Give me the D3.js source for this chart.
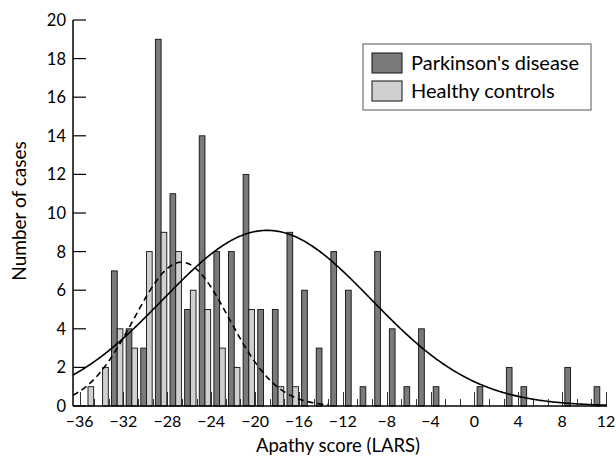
<!DOCTYPE html>
<html lang="en">
<head>
<meta charset="UTF-8">
<title>Apathy score histogram</title>
<script src="https://cdn.jsdelivr.net/npm/d3@7"></script>
<style>
  body { margin: 0; background: white; }
  svg { font-family: Lato, "Noto Sans", sans-serif; }
</style>
</head>
<body>
<div id="chart"></div>
<script>

// bins are 4/3 of a LARS point wide, starting at -36
var binWidth = 4 / 3;
var binStarts = d3.range(36).map(function(i) { return -36 + i * binWidth; });

// counts per bin
var pdCounts = [0, 0, 7, 4, 3, 19, 11, 5, 14, 8, 8, 12, 5, 5, 9, 6, 3, 8, 6, 1,
                8, 4, 1, 4, 1, 0, 0, 1, 0, 2, 1, 0, 0, 2, 0, 1];
var hcCounts = [1, 2, 4, 3, 8, 9, 8, 6, 5, 3, 2, 5, 0, 1, 1, 0, 0, 0, 0, 0,
                0, 0, 0, 0, 0, 0, 0, 0, 0, 0, 0, 0, 0, 0, 0, 0];

// fitted normal curves: [mean, sd, peak height]
var pdFit = [-18.9, 9.5, 9.1];
var hcFit = [-26.7, 4.35, 7.45];

var xTicks = [-36, -32, -28, -24, -20, -16, -12, -8, -4, 0, 4, 8, 12];
var yTicks = [0, 2, 4, 6, 8, 10, 12, 14, 16, 18, 20];
var seriesNames = ["Parkinson's disease", "Healthy controls"];

var w = 616, h = 459;
var pdFill = "#7a7a7a", hcFill = "#d0d0d0";

var svg = d3.select("#chart").append("svg")
  .attr("width", w)
  .attr("height", h);

var x = d3.scaleLinear().domain([-36.6, 12]).range([73, 606]);
var y = d3.scaleLinear().domain([0, 20]).range([406, 20]);

// position of the two bars inside one bin
var inner = d3.scaleBand().domain(["pd", "hc"]).range([2.7, 14.1]);

var bars = [];
binStarts.forEach(function(s, i) {
  bars.push({ s: s, key: "pd", v: pdCounts[i] });
  bars.push({ s: s, key: "hc", v: hcCounts[i] });
});

// x axis ticks at every bin edge, taller ones at the labels
var edges = d3.range(37).map(function(i) { return -36 + i * binWidth; });
svg.selectAll("line.minor")
  .data(edges)
  .enter()
  .append("line")
  .attr("class", "minor")
  .attr("x1", function(d) { return Math.round(x(d)) + 0.5; })
  .attr("x2", function(d) { return Math.round(x(d)) + 0.5; })
  .attr("y1", y(0))
  .attr("y2", function(d, i) { return i % 3 == 0 ? y(0) - 14 : y(0) - 7; })
  .attr("stroke", "#333")
  .attr("stroke-width", 1);

// the bars
svg.selectAll("rect.bar")
  .data(bars.filter(function(d) { return d.v > 0; }))
  .enter()
  .append("rect")
  .attr("class", "bar")
  .attr("x", function(d) { return x(d.s) + inner(d.key); })
  .attr("y", function(d) { return y(d.v); })
  .attr("width", inner.bandwidth())
  .attr("height", function(d) { return y(0) - y(d.v); })
  .attr("fill", function(d) { return d.key == "pd" ? pdFill : hcFill; })
  .attr("stroke", "#111")
  .attr("stroke-width", 0.9);

// normal curves
function normal(fit) {
  return function(v) {
    return fit[2] * Math.exp(-Math.pow(v - fit[0], 2) / (2 * fit[1] * fit[1]));
  };
}
var line = d3.line()
  .x(function(d) { return x(d[0]); })
  .y(function(d) { return y(d[1]); });

var pdCurve = d3.range(-36.6, 12.01, 0.1).map(function(v) { return [v, normal(pdFit)(v)]; });
var hcCurve = d3.range(-36.6, -13.2, 0.1).map(function(v) { return [v, normal(hcFit)(v)]; });

svg.append("path")
  .attr("d", line(pdCurve))
  .attr("fill", "none")
  .attr("stroke", "black")
  .attr("stroke-width", 1.6);

svg.append("path")
  .attr("d", line(hcCurve))
  .attr("fill", "none")
  .attr("stroke", "black")
  .attr("stroke-width", 1.6)
  .attr("stroke-dasharray", "6,4");

// axis lines
svg.append("line")
  .attr("x1", 73).attr("x2", 607)
  .attr("y1", y(0)).attr("y2", y(0))
  .attr("stroke", "black").attr("stroke-width", 1.5);
svg.append("line")
  .attr("x1", 73).attr("x2", 73)
  .attr("y1", y(20)).attr("y2", y(0))
  .attr("stroke", "black").attr("stroke-width", 1.5);

// y ticks point inwards
svg.selectAll("line.ytick")
  .data(yTicks)
  .enter()
  .append("line")
  .attr("class", "ytick")
  .attr("x1", 73).attr("x2", 86)
  .attr("y1", function(d) { return y(d); })
  .attr("y2", function(d) { return y(d); })
  .attr("stroke", "black")
  .attr("stroke-width", 1.2);

svg.selectAll("text.ylab")
  .data(yTicks)
  .enter()
  .append("text")
  .attr("class", "ylab")
  .attr("x", 66)
  .attr("y", function(d) { return y(d) + 6; })
  .attr("text-anchor", "end")
  .attr("font-size", 16.5)
  .text(function(d) { return d; });

var fmt = d3.format("d");
svg.selectAll("text.xlab")
  .data(xTicks)
  .enter()
  .append("text")
  .attr("class", "xlab")
  .attr("x", function(d) { return x(d); })
  .attr("y", 427)
  .attr("text-anchor", "middle")
  .attr("font-size", 16)
  .text(function(d) { return fmt(d); });

// axis titles
svg.append("text")
  .attr("x", 338)
  .attr("y", 452)
  .attr("text-anchor", "middle")
  .attr("font-size", 18.5)
  .text("Apathy score (LARS)");

svg.append("text")
  .attr("transform", "translate(26,211) rotate(-90)")
  .attr("text-anchor", "middle")
  .attr("font-size", 19)
  .text("Number of cases");

// legend
var legend = svg.append("g").attr("transform", "translate(363,44)");
legend.append("rect")
  .attr("width", 228).attr("height", 66)
  .attr("fill", "white")
  .attr("stroke", "#555")
  .attr("stroke-width", 1);

var items = legend.selectAll("g.item")
  .data(seriesNames)
  .enter()
  .append("g")
  .attr("class", "item")
  .attr("transform", function(d, i) { return "translate(9," + (9 + i * 28) + ")"; });

items.append("rect")
  .attr("width", 30).attr("height", 20)
  .attr("fill", function(d, i) { return i == 0 ? pdFill : hcFill; })
  .attr("stroke", "#111")
  .attr("stroke-width", 1);

items.append("text")
  .attr("x", 39)
  .attr("y", 17)
  .attr("font-size", 20)
  .text(function(d) { return d; });

</script>
</body>
</html>
